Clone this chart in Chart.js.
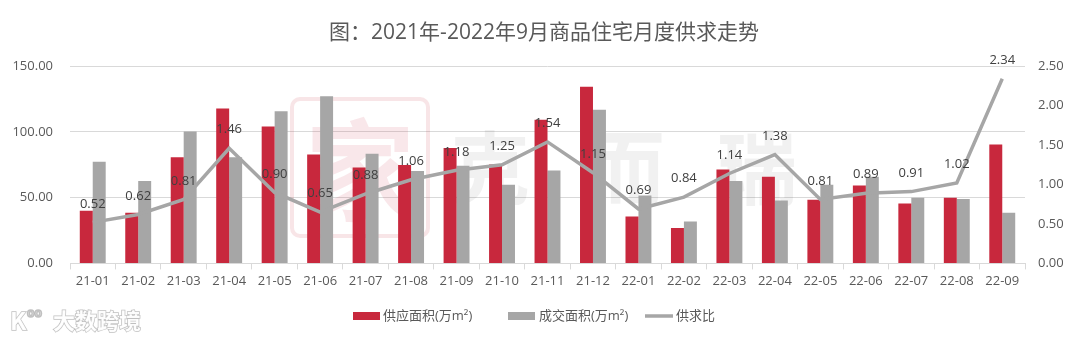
<!DOCTYPE html>
<html>
<head>
<meta charset="utf-8">
<script src="https://cdn.jsdelivr.net/npm/chart.js@4/dist/chart.umd.min.js"></script>
<style>
    html, body { margin: 0; padding: 0; background: #fff; }
    #wrap { width: 1080px; height: 339px; position: relative; }
</style>
</head>
<body>
<div id="wrap"><canvas id="chart" width="1080" height="339"></canvas></div>
<script>
// Monthly supply / transaction of residential housing
const months = ['21-01', '21-02', '21-03', '21-04', '21-05', '21-06', '21-07', '21-08', '21-09', '21-10', '21-11',
    '21-12', '22-01', '22-02', '22-03', '22-04', '22-05', '22-06', '22-07', '22-08', '22-09'];
const supplyArea = [40.0, 38.5, 80.8, 117.8, 104.2, 82.9, 73.0, 74.8, 87.7, 75.3, 109.2,
    134.3, 35.7, 26.9, 71.5, 65.9, 48.4, 59.3, 45.6, 49.9, 90.5];
const dealArea = [77.3, 62.6, 100.3, 80.8, 115.8, 127.2, 83.4, 70.2, 74.2, 59.8, 70.7,
    116.8, 51.7, 31.9, 62.6, 47.9, 59.8, 65.9, 49.9, 48.9, 38.5];
const ratio = [0.52, 0.62, 0.81, 1.46, 0.90, 0.65, 0.88, 1.06, 1.18, 1.25, 1.54,
    1.15, 0.69, 0.84, 1.14, 1.38, 0.81, 0.89, 0.91, 1.02, 2.34];
const leftTicks = [0, 50, 100, 150];
const rightTicks = [0, 0.5, 1, 1.5, 2, 2.5];

const RED = '#C8283D';
const GRAY = '#A6A6A6';
const TEXT = '#595959';
const FONT = "'Open Sans', 'Noto Sans CJK SC', sans-serif";

// faint brand marks behind the bars
const watermark = {
    id: 'watermark',
    beforeDatasetsDraw(chart) {
        const ctx = chart.ctx;
        ctx.save();
        ctx.strokeStyle = 'rgba(200,40,60,0.12)';
        ctx.lineWidth = 4;
        ctx.beginPath();
        ctx.roundRect(292, 99, 136, 137, 8);
        ctx.stroke();
        ctx.fillStyle = 'rgba(200,40,60,0.11)';
        ctx.font = "bold 110px 'Noto Sans CJK SC'";
        ctx.textAlign = 'center';
        ctx.textBaseline = 'middle';
        ctx.fillText('家', 360, 170);
        ctx.fillStyle = 'rgba(0,0,0,0.055)';
        ctx.font = "bold 80px 'Noto Sans CJK SC'";
        ctx.fillText('克', 490, 168);
        ctx.fillText('而', 625, 168);
        ctx.fillText('瑞', 757, 168);
        ctx.restore();
    },
    afterDraw(chart) {
        const ctx = chart.ctx;
        ctx.save();
        ctx.textBaseline = 'middle';
        ctx.lineWidth = 1.5;
        ctx.strokeStyle = 'rgba(150,150,150,0.6)';
        ctx.fillStyle = 'rgba(255,255,255,0.95)';
        ctx.font = "bold 24px 'Noto Sans CJK SC'";
        ctx.strokeText('K', 10, 321);
        ctx.fillText('K', 10, 321);
        ctx.font = "bold 12px 'Noto Sans CJK SC'";
        ctx.strokeText('oo', 27, 312);
        ctx.font = "bold 22px 'Noto Sans CJK SC'";
        ctx.strokeText('大数跨境', 53, 321);
        ctx.fillText('大数跨境', 53, 321);
        ctx.restore();
    }
};

// ratio labels above each line point
const ratioLabels = {
    id: 'ratioLabels',
    afterDatasetsDraw(chart) {
        const ctx = chart.ctx;
        const meta = chart.getDatasetMeta(2);
        ctx.save();
        ctx.font = '13px ' + FONT;
        ctx.fillStyle = '#404040';
        ctx.textAlign = 'center';
        ctx.textBaseline = 'bottom';
        meta.data.forEach((pt, i) => {
            ctx.fillText(ratio[i].toFixed(2), pt.x, pt.y - 12);
        });
        ctx.restore();
    }
};

// legend row under the axis
const bottomLegend = {
    id: 'bottomLegend',
    afterDraw(chart) {
        const ctx = chart.ctx;
        const y = 316;
        ctx.save();
        ctx.font = '13px ' + FONT;
        ctx.textBaseline = 'middle';
        ctx.fillStyle = RED;
        ctx.fillRect(353, y - 4, 27, 8);
        ctx.fillStyle = TEXT;
        ctx.fillText('供应面积(万m²)', 383, y);
        ctx.fillStyle = GRAY;
        ctx.fillRect(508, y - 4, 27, 8);
        ctx.fillStyle = TEXT;
        ctx.fillText('成交面积(万m²)', 539, y);
        ctx.strokeStyle = GRAY;
        ctx.lineWidth = 3.5;
        ctx.beginPath();
        ctx.moveTo(645, y);
        ctx.lineTo(673, y);
        ctx.stroke();
        ctx.fillText('供求比', 676, y);
        ctx.restore();
    }
};

new Chart(document.getElementById('chart'), {
    type: 'bar',
    data: {
        labels: months,
        datasets: [
            {
                label: '供应面积(万m²)',
                data: supplyArea,
                backgroundColor: RED,
                yAxisID: 'y',
                categoryPercentage: 0.57,
                barPercentage: 1.0,
                order: 2
            },
            {
                label: '成交面积(万m²)',
                data: dealArea,
                backgroundColor: GRAY,
                yAxisID: 'y',
                categoryPercentage: 0.57,
                barPercentage: 1.0,
                order: 2
            },
            {
                type: 'line',
                label: '供求比',
                data: ratio,
                borderColor: GRAY,
                backgroundColor: GRAY,
                borderWidth: 3.5,
                pointRadius: 0,
                tension: 0,
                yAxisID: 'y1',
                order: 1
            }
        ]
    },
    options: {
        responsive: false,
        animation: false,
        devicePixelRatio: 1,
        layout: { padding: { left: 8, right: 0, top: 0, bottom: 46 } },
        plugins: {
            legend: { display: false },
            tooltip: { enabled: false },
            title: {
                display: true,
                text: '图：2021年-2022年9月商品住宅月度供求走势',
                color: TEXT,
                font: { family: FONT, size: 21, weight: 'normal' },
                padding: { top: 20, bottom: 21 }
            }
        },
        scales: {
            x: {
                grid: {
                    offset: true,
                    drawOnChartArea: false,
                    drawTicks: true,
                    tickLength: 6,
                    color: '#D9D9D9'
                },
                border: { color: '#D9D9D9' },
                ticks: {
                    color: TEXT,
                    font: { family: FONT, size: 13 },
                    padding: 4,
                    maxRotation: 0,
                    autoSkip: false
                }
            },
            y: {
                position: 'left',
                min: 0,
                max: 150,
                afterBuildTicks(axis) {
                    axis.ticks = leftTicks.map(v => ({ value: v }));
                },
                afterFit(axis) { axis.width = 62; },
                grid: { color: '#D9D9D9', drawTicks: false },
                border: { display: false },
                ticks: {
                    color: TEXT,
                    font: { family: FONT, size: 13 },
                    padding: 17,
                    callback: v => v.toFixed(2)
                }
            },
            y1: {
                position: 'right',
                min: 0,
                max: 2.5,
                afterBuildTicks(axis) {
                    axis.ticks = rightTicks.map(v => ({ value: v }));
                },
                afterFit(axis) { axis.width = 55; },
                grid: { drawOnChartArea: false, drawTicks: false },
                border: { display: false },
                ticks: {
                    color: TEXT,
                    font: { family: FONT, size: 13 },
                    padding: 13,
                    callback: v => v.toFixed(2)
                }
            }
        }
    },
    plugins: [watermark, ratioLabels, bottomLegend]
});
</script>
</body>
</html>
